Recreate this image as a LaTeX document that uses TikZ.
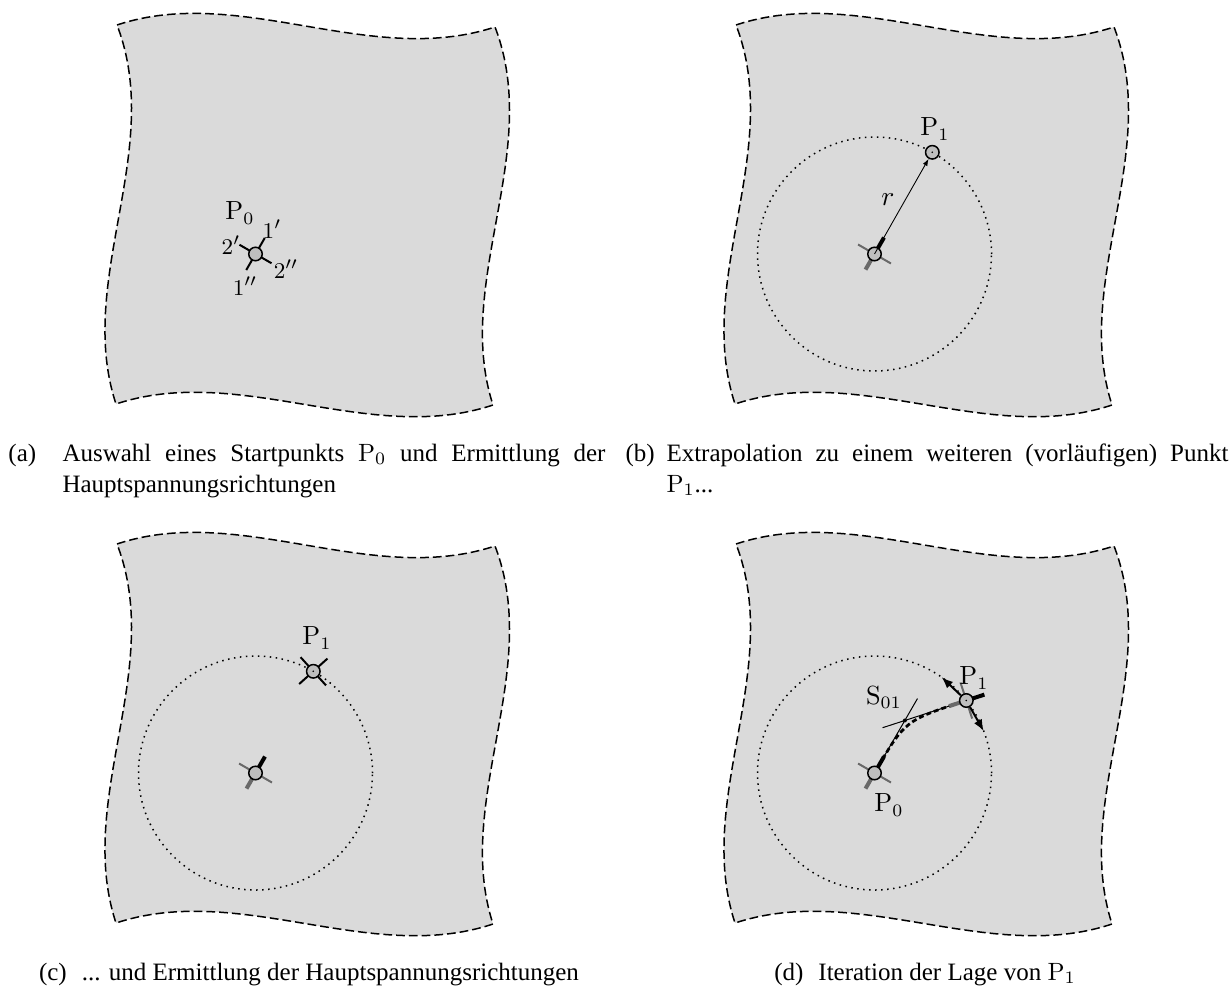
\documentclass[tikz,border=0pt]{standalone}
\usepackage[no-math]{fontspec}
\newfontfamily\capfont{Liberation Serif}
\usetikzlibrary{arrows.meta}
\definecolor{patchgray}{RGB}{218,218,218}
\definecolor{ballgray}{RGB}{190,190,190}
\definecolor{armgray}{RGB}{105,105,105}
\begin{document}
\begin{tikzpicture}[x=0.4pt,y=-0.4pt,
  patch/.style={fill=patchgray, draw=black, line width=0.6pt, dash pattern=on 3.5pt off 1.6pt},
  ball/.style={circle, draw=black, fill=ballgray, line width=0.6pt, minimum size=5.4pt, inner sep=0pt},
  arm/.style={line width=0.8pt, black},
  armthick/.style={line width=1.6pt, black},
  garm/.style={line width=0.8pt, armgray},
  garmthick/.style={line width=1.6pt, armgray},
  orbit/.style={line width=0.6pt, dash pattern=on 0.6pt off 1.8pt},
  lab/.style={inner sep=0pt, font=\fontsize{10.5}{12}\selectfont},
  num/.style={inner sep=0pt, font=\fontsize{9.5}{11}\selectfont},
  captext/.style={inner sep=0pt, anchor=base west, font=\fontsize{10}{12}\capfont},
  captextc/.style={inner sep=0pt, anchor=base, font=\fontsize{10}{12}\capfont},
  thinline/.style={line width=0.4pt},
  thinarrow/.style={line width=0.35pt, -{Latex[length=2.8pt,width=2pt]}},
  bigarrow/.style={line width=0.8pt, -{Latex[length=4.6pt,width=3.6pt]}},
  iter/.style={line width=1.1pt, dash pattern=on 2pt off 1.2pt},
]
\useasboundingbox (0,0) rectangle (1231,986);

% the four patches
\foreach \dx/\dy in {0/0,619/0,0/519,619/519}{
  \draw[patch, shift={(\dx,\dy)}] (117,25) .. controls (240,-16) and (370,68) .. (495,27)
    .. controls (543,152) and (453,282) .. (493,405)
    .. controls (370,446) and (240,363) .. (116,404)
    .. controls (75,280) and (165,150) .. (117,25) -- cycle;
}

% ---------- (a)
\coordinate (a0c) at (255.5,254);
\draw[arm] (a0c) -- ++(-60:18.5);
\draw[arm] (a0c) -- ++(-150:18.5);
\draw[arm] (a0c) -- ++(-240:18.5);
\draw[arm] (a0c) -- ++(-330:18.5);
\node[ball] (a0) at (a0c) {};
\node[lab] (aP0) at (240,213) {P$_0$};
\node[num] (a1p) at (272,229) {$1'$};
\node[num] (a2p) at (231,245) {$2'$};
\node[num] (a2pp) at (286,269) {$2''$};
\node[num] (a1pp) at (245,286) {$1''$};

% ---------- (b)
\coordinate (b0c) at (874.5,254);
\draw[orbit] (b0c) circle[radius=46.8pt];
\draw[garm] (b0c) -- ++(-150:19);
\draw[garm] (b0c) -- ++(-330:19);
\draw[garmthick] (b0c) -- ++(-240:18);
\draw[armthick] (b0c) -- ++(-60:19);
\node[ball] (b0) at (b0c) {};
\node[ball] (b1) at (932.3,152.3) {};
\fill (b1.center) circle[radius=0.35pt];
\draw[thinarrow] (b0c) -- (b1);
\node[lab] (br) at (888,200) {$r$};
\node[lab] (bP1) at (935,129) {P$_1$};

% ---------- (c)
\coordinate (c0c) at (255.5,773);
\draw[orbit] (c0c) circle[radius=46.8pt];
\draw[garm] (c0c) -- ++(-150:19);
\draw[garm] (c0c) -- ++(-330:19);
\draw[garmthick] (c0c) -- ++(-240:18);
\draw[armthick] (c0c) -- ++(-60:19);
\node[ball] (c0) at (c0c) {};
\coordinate (c1c) at (313.3,671.3);
\draw[arm] (c1c) -- ++(-42:19);
\draw[arm] (c1c) -- ++(-132:19);
\draw[arm] (c1c) -- ++(-222:19);
\draw[arm] (c1c) -- ++(-312:19);
\node[ball] (c1) at (c1c) {};
\fill (c1.center) circle[radius=0.35pt];
\node[lab] (cP1) at (317,638) {P$_1$};

% ---------- (d)
\coordinate (d0c) at (874.5,773);
\coordinate (d1c) at (966.3,700.5);
\draw[orbit] (d0c) circle[radius=46.8pt];
\coordinate (dA) at (924.5,686.4);
\coordinate (dB) at (871.2,731.4);
\coordinate (S) at (intersection of d0c--dA and d1c--dB);
\coordinate (dE0) at (917.5,698.5);
\coordinate (dE1) at (882.6,727.7);
\draw[thinline] (d0c) -- (dE0);
\draw[thinline] (d1c) -- (dE1);
\draw[iter] (d0c) .. controls (S) .. (d1c);
\draw[garm] (d0c) -- ++(-150:19);
\draw[garm] (d0c) -- ++(-330:19);
\draw[garmthick] (d0c) -- ++(-240:18);
\draw[armthick] (d0c) -- ++(-60:19);
\draw[garm] (d1c) -- ++(-108:19);
\draw[garm] (d1c) -- ++(-288:19);
\draw[garmthick] (d1c) -- ++(-198:18);
\draw[armthick] (d1c) -- ++(-18:19);
\node[ball] (d0) at (d0c) {};
\node[ball] (d1) at (d1c) {};
\fill (d1.center) circle[radius=0.35pt];
\fill (S) circle[radius=0.8pt];
\coordinate (dT1) at (941.6,677.2);
\coordinate (dT2) at (983.7,731.1);
\draw[bigarrow] (d1) -- (dT1);
\draw[bigarrow] (d1) -- (dT2);
\node[lab] (dS) at (884,697) {S$_{01}$};
\node[lab] (dP1) at (974,678) {P$_1$};
\node[lab] (dP0) at (889,805) {P$_0$};

% ---------- captions
\node[captext] (capa) at (8,461) {(a)};
\node[captext] (capa1) at (62,461) {\makebox[217.2pt][s]{Auswahl eines Startpunkts $\mathrm{P}_0$ und Ermittlung der}};
\node[captext] (capa2) at (62,492) {Hauptspannungsrichtungen};
\node[captext] (capb) at (625,461) {(b)};
\node[captext] (capb1) at (666,461) {\makebox[224.8pt][s]{Extrapolation zu einem weiteren (vorläufigen) Punkt}};
\node[captext] (capb2) at (666,492) {$\mathrm{P}_1$...};
\node[captextc] (capcc) at (309,980) {(c)\hspace{6pt}... und Ermittlung der Hauptspannungsrichtungen};
\node[captextc] (capdd) at (925,980) {(d)\hspace{6pt}Iteration der Lage von $\mathrm{P}_1$};
\end{tikzpicture}
\end{document}
